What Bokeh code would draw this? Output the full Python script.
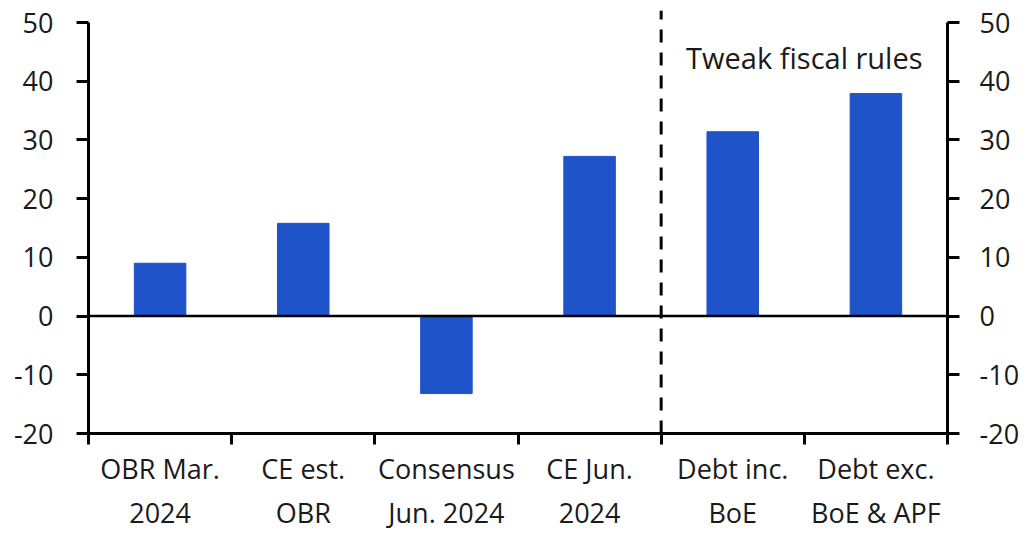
from bokeh.plotting import figure
from bokeh.models import LinearAxis, FixedTicker, Range1d, ColumnDataSource, Span
from bokeh.core.properties import value
from bokeh.embed import file_html
from bokeh.resources import INLINE

categories = ["OBR Mar.\n2024", "CE est.\nOBR", "Consensus\nJun. 2024", "CE Jun.\n2024",
              "Debt inc.\nBoE", "Debt exc.\nBoE & APF"]
values = [9.0, 15.8, -13.2, 27.2, 31.4, 37.9]
y_ticks = [-20, -10, 0, 10, 20, 30, 40, 50]
y_tick_labels = ["-20", "-10", "0", "10", "20", "30", "40", "50"]
annotation = "Tweak fiscal rules"

FONT = "Open Sans"
TXT = "#1a1a1a"
BLUE = "#1F53C9"

xs = [i + 0.5 for i in range(len(categories))]
src = ColumnDataSource(dict(x=xs, top=values))

p = figure(width=1029, height=533, output_backend="svg", toolbar_location=None,
           x_range=Range1d(0, len(categories)), y_range=Range1d(-20, 52.05),
           min_border_left=88, min_border_right=82, min_border_top=10, min_border_bottom=60,
           y_axis_location=None, x_axis_location=None)
p.outline_line_color = None
p.xgrid.visible = False
p.ygrid.visible = False

p.vbar(x="x", top="top", bottom=0, width=0.36, source=src, fill_color=BLUE, line_color=BLUE)

p.add_layout(Span(location=0, dimension="width", line_color="black", line_width=2.5))
p.segment(x0=[4], y0=[-20], x1=[4], y1=[52.05], line_color="black", line_width=3,
          line_dash="13 10")

p.text(x=[5], y=[44.1], text=[annotation], text_font=value(FONT), text_font_size="29px",
       text_align="center", text_baseline="middle", text_color=TXT)

def style_y(ax, standoff):
    ax.ticker = FixedTicker(ticks=y_ticks)
    ax.major_label_overrides = {t: s for t, s in zip(y_ticks, y_tick_labels)}
    ax.bounds = (-20, 50)
    ax.axis_line_width = 3
    ax.axis_line_color = "black"
    ax.major_tick_line_width = 3
    ax.major_tick_out = 12
    ax.major_tick_in = 0
    ax.minor_tick_out = 0
    ax.minor_tick_in = 0
    ax.major_label_text_font = FONT
    ax.major_label_text_font_size = "27px"
    ax.major_label_text_color = TXT
    ax.major_label_standoff = standoff

yl = LinearAxis()
style_y(yl, 23)
p.add_layout(yl, "left")
yr = LinearAxis()
style_y(yr, 20)
p.add_layout(yr, "right")

xa = LinearAxis()
xa.ticker = FixedTicker(ticks=xs, minor_ticks=list(range(len(categories) + 1)))
xa.bounds = (0, len(categories))
xa.major_label_overrides = {x: c for x, c in zip(xs, categories)}
xa.axis_line_width = 3
xa.axis_line_color = "black"
xa.major_tick_out = 0
xa.major_tick_in = 0
xa.minor_tick_out = 11
xa.minor_tick_in = 0
xa.minor_tick_line_width = 3
xa.minor_tick_line_color = "black"
xa.major_label_text_font = FONT
xa.major_label_text_font_size = "27px"
xa.major_label_text_color = TXT
xa.major_label_standoff = 5
p.add_layout(xa, "below")

open("out.html", "w").write(file_html(p, INLINE))
